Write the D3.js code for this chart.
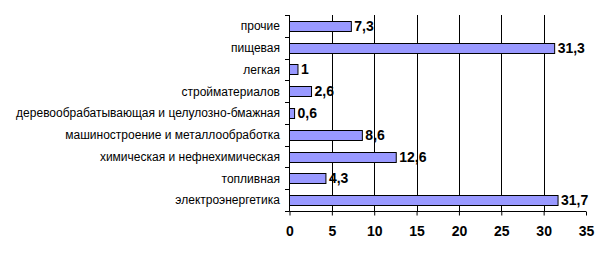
<!DOCTYPE html>
<html><head><meta charset="utf-8">
<script src="https://cdn.jsdelivr.net/npm/d3@7"></script>
<style>body{margin:0;background:#fff}svg{display:block}</style>
</head><body>
<script>
const categories = ["прочие","пищевая","легкая","стройматериалов","деревообрабатывающая и целулозно-бмажная","машиностроение и металлообработка","химическая и нефнехимическая","топливная","электроэнергетика"];
const values = [7.3,31.3,1,2.6,0.6,8.6,12.6,4.3,31.7];
const xTicks = [0,5,10,15,20,25,30,35];

const W=612,H=264;
const svg=d3.select("body").append("svg").attr("width",W).attr("height",H);
const x=d3.scaleLinear().domain([0,35]).range([289.5,586]);
const y=d3.scaleBand().domain(categories).range([15,211]).paddingInner(0.54).paddingOuter(0.27);

// gridlines
svg.append("g").selectAll("line").data(xTicks.filter(d=>d>0&&d<35)).join("line")
  .attr("x1",d=>Math.round(x(d))+0.5).attr("x2",d=>Math.round(x(d))+0.5)
  .attr("y1",15).attr("y2",211).attr("stroke","#000");

// bars
svg.append("g").selectAll("rect").data(values).join("rect")
  .attr("x",x(0)).attr("y",(d,i)=>Math.round(y(categories[i]))+0.5)
  .attr("width",d=>x(d)-x(0)).attr("height",Math.round(y.bandwidth()))
  .attr("fill","#9999FF").attr("stroke","#000").attr("stroke-width",1);

// value labels
svg.append("g").selectAll("text").data(values).join("text")
  .attr("x",d=>x(d)+3).attr("y",(d,i)=>y(categories[i])+y.bandwidth()/2)
  .attr("dy","0.36em").attr("font-family","Liberation Sans, Arial, sans-serif")
  .attr("font-size",14).attr("font-weight","bold")
  .text(d=>String(d).replace(".",","));

// x axis
const xAxis=svg.append("g").attr("transform","translate(0,211.5)")
  .call(d3.axisBottom(x).tickValues(xTicks).tickSize(4).tickPadding(11).tickFormat(d=>d));
xAxis.select(".domain").attr("d",`M${x(0)},0H${x(35)}`);
xAxis.selectAll("text").attr("font-family","Liberation Sans, Arial, sans-serif").attr("font-size",14).attr("font-weight","bold").attr("fill","#000");
xAxis.selectAll("line").attr("stroke","#000");

// y axis
const yg=svg.append("g");
yg.append("line").attr("x1",289.5).attr("x2",289.5).attr("y1",15).attr("y2",211.5).attr("stroke","#000");
const bounds=categories.map((c,i)=>y(c)-y.step()*y.paddingInner()/2).concat([211]);
yg.selectAll("line.t").data(bounds).join("line").attr("class","t")
  .attr("x1",285).attr("x2",289.5).attr("y1",d=>Math.round(d)+0.5).attr("y2",d=>Math.round(d)+0.5).attr("stroke","#000");
yg.selectAll("text").data(categories).join("text")
  .attr("x",280).attr("y",c=>y(c)+y.bandwidth()/2).attr("dy","0.36em")
  .attr("text-anchor","end").attr("font-family","Liberation Sans, Arial, sans-serif").attr("font-size",12)
  .text(c=>c);
</script>
</body></html>
